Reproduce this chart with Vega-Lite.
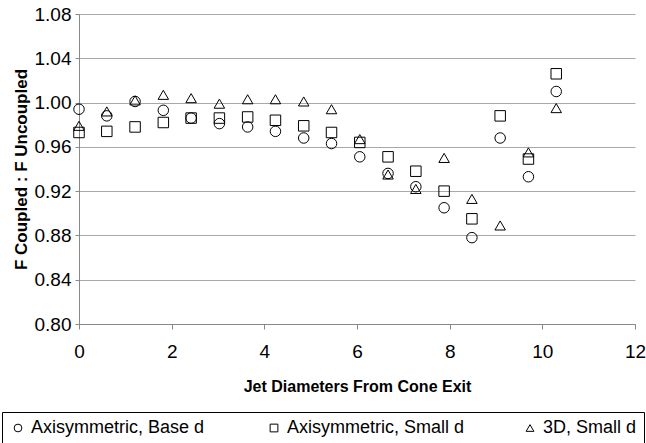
{
  "$schema": "https://vega.github.io/schema/vega-lite/v6.json",
  "width": 556,
  "height": 310,
  "autosize": {"type": "none"},
  "padding": {"left": 79, "top": 14, "right": 11, "bottom": 119},
  "background": "white",
  "config": {
    "font": "Liberation Sans",
    "view": {"stroke": null}
  },
  "data": {
    "values": [
      {"x": 0, "y": 0.994, "series": "Axisymmetric, Base d"},
      {"x": 0.6, "y": 0.988, "series": "Axisymmetric, Base d"},
      {"x": 1.21, "y": 1.001, "series": "Axisymmetric, Base d"},
      {"x": 1.82, "y": 0.993, "series": "Axisymmetric, Base d"},
      {"x": 2.42, "y": 0.986, "series": "Axisymmetric, Base d"},
      {"x": 3.03, "y": 0.981, "series": "Axisymmetric, Base d"},
      {"x": 3.64, "y": 0.978, "series": "Axisymmetric, Base d"},
      {"x": 4.24, "y": 0.974, "series": "Axisymmetric, Base d"},
      {"x": 4.85, "y": 0.968, "series": "Axisymmetric, Base d"},
      {"x": 5.45, "y": 0.963, "series": "Axisymmetric, Base d"},
      {"x": 6.06, "y": 0.951, "series": "Axisymmetric, Base d"},
      {"x": 6.67, "y": 0.936, "series": "Axisymmetric, Base d"},
      {"x": 7.27, "y": 0.924, "series": "Axisymmetric, Base d"},
      {"x": 7.88, "y": 0.905, "series": "Axisymmetric, Base d"},
      {"x": 8.48, "y": 0.878, "series": "Axisymmetric, Base d"},
      {"x": 9.09, "y": 0.968, "series": "Axisymmetric, Base d"},
      {"x": 9.7, "y": 0.933, "series": "Axisymmetric, Base d"},
      {"x": 10.3, "y": 1.010, "series": "Axisymmetric, Base d"},
      {"x": 0, "y": 0.973, "series": "Axisymmetric, Small d"},
      {"x": 0.6, "y": 0.974, "series": "Axisymmetric, Small d"},
      {"x": 1.21, "y": 0.978, "series": "Axisymmetric, Small d"},
      {"x": 1.82, "y": 0.982, "series": "Axisymmetric, Small d"},
      {"x": 2.42, "y": 0.986, "series": "Axisymmetric, Small d"},
      {"x": 3.03, "y": 0.986, "series": "Axisymmetric, Small d"},
      {"x": 3.64, "y": 0.987, "series": "Axisymmetric, Small d"},
      {"x": 4.24, "y": 0.984, "series": "Axisymmetric, Small d"},
      {"x": 4.85, "y": 0.979, "series": "Axisymmetric, Small d"},
      {"x": 5.45, "y": 0.973, "series": "Axisymmetric, Small d"},
      {"x": 6.06, "y": 0.964, "series": "Axisymmetric, Small d"},
      {"x": 6.67, "y": 0.951, "series": "Axisymmetric, Small d"},
      {"x": 7.27, "y": 0.938, "series": "Axisymmetric, Small d"},
      {"x": 7.88, "y": 0.920, "series": "Axisymmetric, Small d"},
      {"x": 8.48, "y": 0.895, "series": "Axisymmetric, Small d"},
      {"x": 9.09, "y": 0.988, "series": "Axisymmetric, Small d"},
      {"x": 9.7, "y": 0.949, "series": "Axisymmetric, Small d"},
      {"x": 10.3, "y": 1.026, "series": "Axisymmetric, Small d"},
      {"x": 0, "y": 0.979, "series": "3D, Small d"},
      {"x": 0.6, "y": 0.992, "series": "3D, Small d"},
      {"x": 1.21, "y": 1.002, "series": "3D, Small d"},
      {"x": 1.82, "y": 1.007, "series": "3D, Small d"},
      {"x": 2.42, "y": 1.004, "series": "3D, Small d"},
      {"x": 3.03, "y": 0.999, "series": "3D, Small d"},
      {"x": 3.64, "y": 1.003, "series": "3D, Small d"},
      {"x": 4.24, "y": 1.003, "series": "3D, Small d"},
      {"x": 4.85, "y": 1.001, "series": "3D, Small d"},
      {"x": 5.45, "y": 0.994, "series": "3D, Small d"},
      {"x": 6.06, "y": 0.967, "series": "3D, Small d"},
      {"x": 6.67, "y": 0.935, "series": "3D, Small d"},
      {"x": 7.27, "y": 0.922, "series": "3D, Small d"},
      {"x": 7.88, "y": 0.950, "series": "3D, Small d"},
      {"x": 8.48, "y": 0.913, "series": "3D, Small d"},
      {"x": 9.09, "y": 0.889, "series": "3D, Small d"},
      {"x": 9.7, "y": 0.955, "series": "3D, Small d"},
      {"x": 10.3, "y": 0.995, "series": "3D, Small d"}
    ]
  },
  "mark": {"type": "point", "filled": false, "strokeWidth": 1, "size": 110, "opacity": 1},
  "encoding": {
    "x": {
      "field": "x", "type": "quantitative",
      "scale": {"domain": [0, 12], "nice": false, "zero": false},
      "axis": {
        "values": [0, 2, 4, 6, 8, 10, 12],
        "title": "Jet Diameters From Cone Exit",
        "grid": false,
        "domainColor": "#888888", "tickColor": "#888888", "tickSize": 5,
        "labelFontSize": 19, "labelColor": "black", "labelPadding": 13, "labelFlush": false,
        "titleFontSize": 16, "titleFontWeight": "bold", "titleColor": "black", "titlePadding": 17
      }
    },
    "y": {
      "field": "y", "type": "quantitative",
      "scale": {"domain": [0.8, 1.08], "nice": false, "zero": false},
      "axis": {
        "values": [0.8, 0.84, 0.88, 0.92, 0.96, 1.0, 1.04, 1.08],
        "format": ".2f",
        "title": "F Coupled : F Uncoupled",
        "grid": true, "gridColor": "#a8a8a8", "gridWidth": 1,
        "domainColor": "#888888", "tickColor": "#888888", "tickSize": 4,
        "labelFontSize": 19, "labelColor": "black", "labelPadding": 4,
        "titleFontSize": 17, "titleFontWeight": "bold", "titleColor": "black", "titlePadding": 4
      }
    },
    "color": {"value": "black"},
    "shape": {
      "field": "series", "type": "nominal",
      "scale": {
        "domain": ["Axisymmetric, Base d", "Axisymmetric, Small d", "3D, Small d"],
        "range": ["circle", "square", "triangle-up"]
      },
      "legend": {
        "title": null,
        "orient": "none",
        "legendX": -77,
        "legendY": 398,
        "direction": "horizontal",
        "columns": 3,
        "gridAlign": "all",
        "columnPadding": 56,
        "padding": 7,
        "strokeColor": "black",
        "fillColor": "white",
        "labelFontSize": 18,
        "labelColor": "black",
        "labelLimit": 0,
        "symbolSize": 60,
        "symbolStrokeColor": "black",
        "symbolStrokeWidth": 1,
        "symbolFillColor": "transparent"
      }
    }
  }
}
